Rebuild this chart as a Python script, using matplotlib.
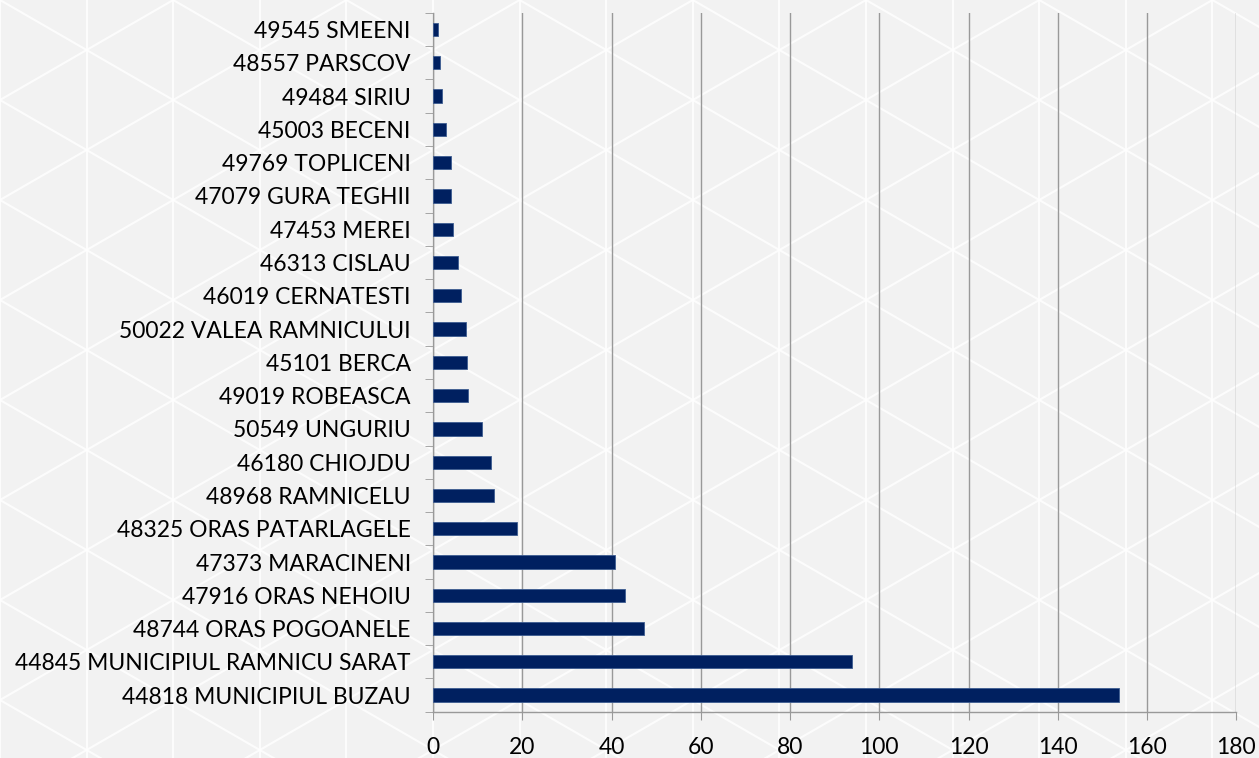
import numpy as np
import matplotlib
matplotlib.use('Agg')
import matplotlib.pyplot as plt
from matplotlib.lines import Line2D

# --- Data (top to bottom as shown) ---
LABELS = [
    '49545 SMEENI', '48557 PARSCOV', '49484 SIRIU', '45003 BECENI',
    '49769 TOPLICENI', '47079 GURA TEGHII', '47453 MEREI', '46313 CISLAU',
    '46019 CERNATESTI', '50022 VALEA RAMNICULUI', '45101 BERCA',
    '49019 ROBEASCA', '50549 UNGURIU', '46180 CHIOJDU', '48968 RAMNICELU',
    '48325 ORAS PATARLAGELE', '47373 MARACINENI', '47916 ORAS NEHOIU',
    '48744 ORAS POGOANELE', '44845 MUNICIPIUL RAMNICU SARAT',
    '44818 MUNICIPIUL BUZAU',
]
VALUES = [1, 1.5, 2, 3, 4, 4, 4.4, 5.5, 6.3, 7.4, 7.5, 7.8, 10.9, 12.9,
          13.7, 18.8, 40.8, 43.1, 47.2, 93.9, 153.8]
X_TICKS = [0, 20, 40, 60, 80, 100, 120, 140, 160, 180]

plt.rcParams['font.family'] = ['Lato', 'DejaVu Sans']

fig = plt.figure(figsize=(12.59, 7.58), dpi=100)
fig.patch.set_facecolor('#f2f2f2')

# faint triangle lattice in the background (vertical edges + 30 degree diagonals)
bg = fig.add_axes([0, 0, 1, 1], zorder=-10)
bg.set_xlim(0, 1259)
bg.set_ylim(758, 0)
bg.axis('off')
side = 100
w = side * np.sqrt(3) / 2
t = np.tan(np.radians(30))
for k in range(0, 16):
    bg.add_line(Line2D([k * w, k * w], [0, 758], color='white', lw=1.5, alpha=0.8))
for k in range(-15, 25):
    c = k * side
    bg.add_line(Line2D([0, 1259], [c, c + 1259 * t], color='white', lw=1.5, alpha=0.8))
    bg.add_line(Line2D([0, 1259], [c, c - 1259 * t], color='white', lw=1.5, alpha=0.8))

ax = fig.add_axes([0.344, 0.061, 0.638, 0.922])
ax.set_facecolor('none')

y = np.arange(len(LABELS))
ax.barh(y, VALUES, height=0.4, color='#002060', edgecolor='#3d5c91',
        linewidth=0.6, zorder=3)

ax.set_ylim(len(LABELS) - 0.5, -0.5)
ax.set_xlim(0, 180)
ax.set_xticks(X_TICKS)
ax.set_xticklabels([str(t) for t in X_TICKS], fontsize=16.5)
ax.set_yticks(y)
ax.set_yticklabels(LABELS, fontsize=16.5)
ax.set_yticks(np.arange(len(LABELS) + 1) - 0.5, minor=True)

ax.grid(axis='x', color='#999999', linewidth=1.0, zorder=0)
ax.grid(axis='y', visible=False)
for s in ['top', 'right']:
    ax.spines[s].set_visible(False)
for s in ['left', 'bottom']:
    ax.spines[s].set_color('#999999')
    ax.spines[s].set_linewidth(1.0)
ax.tick_params(axis='y', which='major', length=0, pad=16, colors='black')
ax.tick_params(axis='y', which='minor', length=6, color='#999999')
ax.tick_params(axis='x', length=6, color='#999999', pad=12, labelcolor='black')

fig.savefig('out.png', dpi=100, facecolor=fig.get_facecolor())
